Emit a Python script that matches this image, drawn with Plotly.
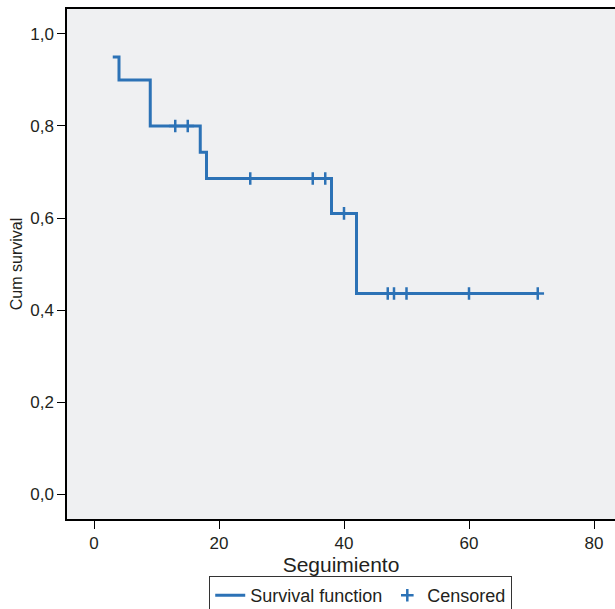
import plotly.graph_objects as go

# Kaplan-Meier step data
step_times = [3, 4, 9, 17, 18, 38, 42, 71]
step_surv = [0.95, 0.90, 0.80, 0.743, 0.686, 0.610, 0.436, 0.436]

# Censored observations
censor_times = [13, 15, 25, 35, 37, 40, 47, 48, 50, 60, 71]
censor_surv = [0.80, 0.80, 0.686, 0.686, 0.686, 0.610, 0.436, 0.436, 0.436, 0.436, 0.436]

x_ticks = [0, 20, 40, 60, 80]
y_ticks = [0.0, 0.2, 0.4, 0.6, 0.8, 1.0]

blue = "#2c72b6"
txt = "#231f20"

fig = go.Figure()
fig.add_trace(go.Scatter(
    x=step_times, y=step_surv, mode="lines", line=dict(color=blue, width=3, shape="hv"),
    name="Survival function"))
fig.add_trace(go.Scatter(
    x=censor_times, y=censor_surv, mode="markers",
    marker=dict(symbol="cross-thin", size=9, line=dict(color=blue, width=2.5), color=blue),
    name="Censored"))

fig.update_layout(
    width=615, height=616,
    margin=dict(l=67, r=0, t=9, b=97),
    paper_bgcolor="white", plot_bgcolor="#eff0f2",
    font=dict(family="Liberation Sans, Arial, sans-serif", color=txt, size=17),
    separators=",.",
    showlegend=True,
    hovermode=False,
    legend=dict(orientation="h", x=0.536, xanchor="center", y=-0.112, yanchor="top",
                bordercolor="#333333", borderwidth=1, bgcolor="white",
                font=dict(size=18), itemwidth=30, tracegroupgap=0),
    xaxis=dict(range=[-4.32, 83.36], tickvals=x_ticks, ticks="outside", ticklen=8, tickcolor="black",
               showgrid=False, zeroline=False, showline=True, linecolor="black", linewidth=1.5,
               mirror=True, automargin=False,
               title=dict(text="Seguimiento", font=dict(size=21), standoff=0),
               tickfont=dict(size=17)),
    yaxis=dict(range=[-0.0543, 1.0543], tickvals=y_ticks, tickformat=".1f", ticks="outside", ticklen=8,
               tickcolor="black", showgrid=False, zeroline=False, showline=True, linecolor="black",
               linewidth=1.5, mirror=False, automargin=False,
               title=dict(text="Cum survival", font=dict(size=16), standoff=4),
               tickfont=dict(size=17)),
)

fig.write_html(
    "out.html",
    config={"displayModeBar": False},
    post_script=("document.body.style.margin='0';"
                 "document.documentElement.style.overflow='hidden';"
                 "document.body.style.overflow='hidden';"),
)
